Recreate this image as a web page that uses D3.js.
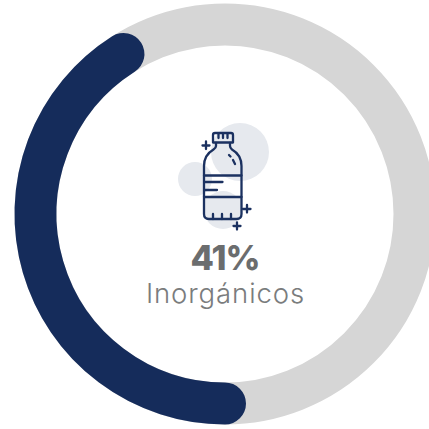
<!DOCTYPE html>
<html lang="en">
<head>
	<meta charset="utf-8">
	<title>Inorgánicos</title>
	<script src="https://d3js.org/d3.v7.min.js"></script>
	<style>
		html, body { margin: 0; padding: 0; background: #fff; overflow: hidden; }
		svg { display: block; }
	</style>
</head>
<body>
	<script>
	// values
	var percent = [41];
	var total = [100];
	var percentLabels = ["41%"];
	var categoryLabels = ["Inorgánicos"];

	var width = 429;
	var height = 429;
	var cx = 225;
	var cy = 214;
	var radius = 189.5;
	var thickness = 42;

	var svg = d3.select("body").append("svg")
		.attr("width", width)
		.attr("height", height);

	// percent to angle, the ring starts at the bottom and runs clockwise
	// (d3.path angles start at 3 o'clock, so the bottom is PI / 2)
	var angle = d3.scaleLinear()
		.domain([0, total[0]])
		.range([Math.PI / 2, Math.PI / 2 + 2 * Math.PI]);

	function arcPath(d) {
		var p = d3.path();
		p.arc(0, 0, radius, angle(0), angle(d));
		return p.toString();
	}

	var ring = svg.append("g")
		.attr("transform", "translate(" + cx + "," + cy + ")");

	ring.append("path")
		.attr("d", arcPath(total[0]))
		.attr("fill", "none")
		.attr("stroke", "#d6d6d6")
		.attr("stroke-width", thickness);

	ring.selectAll(".value")
		.data(percent)
		.enter()
		.append("path")
		.attr("class", "value")
		.attr("d", arcPath)
		.attr("fill", "none")
		.attr("stroke", "#152c5b")
		.attr("stroke-width", thickness)
		.attr("stroke-linecap", "round");

	// bottle icon
	var navy = "#1b3160";
	var blobFill = "#e6e9ee";
	var icon = svg.append("g");

	var blobs = [[240, 152, 29], [195, 179, 17], [223, 210, 19]];
	icon.selectAll("circle")
		.data(blobs)
		.enter()
		.append("circle")
		.attr("cx", function(d) { return d[0]; })
		.attr("cy", function(d) { return d[1]; })
		.attr("r", function(d) { return d[2]; })
		.attr("fill", blobFill);

	// lower part of the bottle is shaded
	icon.append("path")
		.attr("d", "M205 197H241V214Q241 218 237 218H209Q205 218 205 214Z")
		.attr("fill", blobFill);

	var strokes = [
		"M213 142.5V135Q213 133 215 133H231Q233 133 233 135V142.5Z",
		"M218.5 134V138M223 134V138M227.5 134V138",
		"M216 143V146Q216 148 213.5 149.5Q204 155 204 166V214Q204 219 209 219H236.5Q241.5 219 241.5 214V166Q241.5 155 232 149.5Q230 148 230 146V143",
		"M204 175.5H241.5M204 197H241.5",
		"M205 182H222.5M205 190H217",
		"M213 219V214M222 219V214M231 219V214",
		"M229 155L230.5 156.5M233 160L235 164",
		"M206 141.5V149M202.5 145.5H209.5",
		"M247 205V212.5M243 209H250.5",
		"M237 222.5V229.5M233.5 226H240.5"
	];
	icon.selectAll(".line")
		.data(strokes)
		.enter()
		.append("path")
		.attr("class", "line")
		.attr("d", function(d) { return d; })
		.attr("fill", "none")
		.attr("stroke", navy)
		.attr("stroke-width", 2.3)
		.attr("stroke-linecap", "round")
		.attr("stroke-linejoin", "round");

	svg.append("text")
		.attr("x", 225)
		.attr("y", 270)
		.attr("text-anchor", "middle")
		.attr("font-family", "Inter, sans-serif")
		.attr("font-weight", 800)
		.attr("font-size", 34)
		.attr("letter-spacing", -1)
		.attr("fill", "#6b6d6e")
		.text(percentLabels[0]);

	svg.append("text")
		.attr("x", 225.5)
		.attr("y", 303)
		.attr("text-anchor", "middle")
		.attr("font-family", "Inter, sans-serif")
		.attr("font-weight", 300)
		.attr("font-size", 27.5)
		.attr("letter-spacing", 0.9)
		.attr("fill", "#7a7c7d")
		.text(categoryLabels[0]);
	</script>
</body>
</html>
